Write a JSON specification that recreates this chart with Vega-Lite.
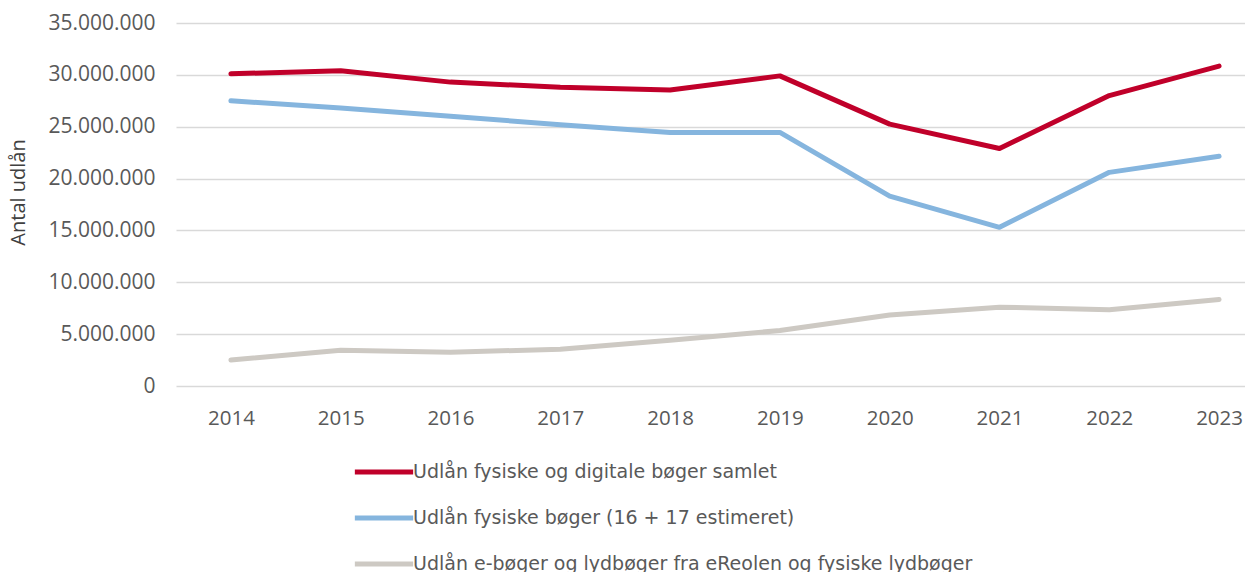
{
  "$schema": "https://vega.github.io/schema/vega-lite/v6.json",
  "width": 1069,
  "height": 363,
  "autosize": {"type": "none"},
  "padding": {"left": 176, "top": 23, "right": 0, "bottom": 186},
  "background": "white",
  "config": {
    "locale": {"number": {"decimal": ",", "thousands": ".", "grouping": [3], "currency": ["", " kr."]}},
    "view": {"stroke": null},
    "font": "Open Sans"
  },
  "data": {
    "values": [
      {"year": 2014, "series": "Udlån fysiske og digitale bøger samlet", "value": 30100000},
      {"year": 2015, "series": "Udlån fysiske og digitale bøger samlet", "value": 30400000},
      {"year": 2016, "series": "Udlån fysiske og digitale bøger samlet", "value": 29300000},
      {"year": 2017, "series": "Udlån fysiske og digitale bøger samlet", "value": 28800000},
      {"year": 2018, "series": "Udlån fysiske og digitale bøger samlet", "value": 28550000},
      {"year": 2019, "series": "Udlån fysiske og digitale bøger samlet", "value": 29900000},
      {"year": 2020, "series": "Udlån fysiske og digitale bøger samlet", "value": 25250000},
      {"year": 2021, "series": "Udlån fysiske og digitale bøger samlet", "value": 22900000},
      {"year": 2022, "series": "Udlån fysiske og digitale bøger samlet", "value": 28000000},
      {"year": 2023, "series": "Udlån fysiske og digitale bøger samlet", "value": 30850000},
      {"year": 2014, "series": "Udlån fysiske bøger (16 + 17 estimeret)", "value": 27500000},
      {"year": 2015, "series": "Udlån fysiske bøger (16 + 17 estimeret)", "value": 26800000},
      {"year": 2016, "series": "Udlån fysiske bøger (16 + 17 estimeret)", "value": 26000000},
      {"year": 2017, "series": "Udlån fysiske bøger (16 + 17 estimeret)", "value": 25200000},
      {"year": 2018, "series": "Udlån fysiske bøger (16 + 17 estimeret)", "value": 24450000},
      {"year": 2019, "series": "Udlån fysiske bøger (16 + 17 estimeret)", "value": 24450000},
      {"year": 2020, "series": "Udlån fysiske bøger (16 + 17 estimeret)", "value": 18300000},
      {"year": 2021, "series": "Udlån fysiske bøger (16 + 17 estimeret)", "value": 15300000},
      {"year": 2022, "series": "Udlån fysiske bøger (16 + 17 estimeret)", "value": 20600000},
      {"year": 2023, "series": "Udlån fysiske bøger (16 + 17 estimeret)", "value": 22150000},
      {"year": 2014, "series": "Udlån e-bøger og lydbøger fra eReolen og fysiske lydbøger", "value": 2500000},
      {"year": 2015, "series": "Udlån e-bøger og lydbøger fra eReolen og fysiske lydbøger", "value": 3450000},
      {"year": 2016, "series": "Udlån e-bøger og lydbøger fra eReolen og fysiske lydbøger", "value": 3250000},
      {"year": 2017, "series": "Udlån e-bøger og lydbøger fra eReolen og fysiske lydbøger", "value": 3550000},
      {"year": 2018, "series": "Udlån e-bøger og lydbøger fra eReolen og fysiske lydbøger", "value": 4400000},
      {"year": 2019, "series": "Udlån e-bøger og lydbøger fra eReolen og fysiske lydbøger", "value": 5350000},
      {"year": 2020, "series": "Udlån e-bøger og lydbøger fra eReolen og fysiske lydbøger", "value": 6850000},
      {"year": 2021, "series": "Udlån e-bøger og lydbøger fra eReolen og fysiske lydbøger", "value": 7600000},
      {"year": 2022, "series": "Udlån e-bøger og lydbøger fra eReolen og fysiske lydbøger", "value": 7350000},
      {"year": 2023, "series": "Udlån e-bøger og lydbøger fra eReolen og fysiske lydbøger", "value": 8350000}
    ]
  },
  "mark": {"type": "line", "strokeWidth": 5, "strokeCap": "round", "strokeJoin": "round"},
  "encoding": {
    "x": {
      "field": "year",
      "type": "quantitative",
      "scale": {"domain": [2013.5, 2023.236], "nice": false, "zero": false},
      "axis": {
        "title": null,
        "values": [2014, 2015, 2016, 2017, 2018, 2019, 2020, 2021, 2022, 2023],
        "format": "d",
        "grid": false,
        "domain": false,
        "ticks": false,
        "labelFontSize": 20.5,
        "labelColor": "#595959",
        "labelPadding": 22,
        "labelFlush": false
      }
    },
    "y": {
      "field": "value",
      "type": "quantitative",
      "scale": {"domain": [0, 35000000], "nice": false},
      "axis": {
        "title": "Antal udlån",
        "titleFontSize": 20,
        "titleFontWeight": "normal",
        "titleColor": "#404040",
        "titleX": -148,
        "titleY": 169,
        "values": [0, 5000000, 10000000, 15000000, 20000000, 25000000, 30000000, 35000000],
        "format": ",d",
        "grid": true,
        "gridColor": "#D9D9D9",
        "gridWidth": 1.5,
        "domain": false,
        "ticks": false,
        "labelFontSize": 21,
        "labelColor": "#595959",
        "labelPadding": 21
      }
    },
    "color": {
      "field": "series",
      "type": "nominal",
      "scale": {
        "domain": [
          "Udlån fysiske og digitale bøger samlet",
          "Udlån fysiske bøger (16 + 17 estimeret)",
          "Udlån e-bøger og lydbøger fra eReolen og fysiske lydbøger"
        ],
        "range": ["#C0002A", "#85B5DE", "#CDC9C3"]
      },
      "legend": {
        "title": null,
        "orient": "none",
        "legendX": 176,
        "legendY": 417,
        "direction": "vertical",
        "symbolType": "stroke",
        "symbolSize": 3400,
        "symbolStrokeWidth": 5,
        "symbolStrokeColor": {"expr": "scale('color', datum.value)"},
        "labelFont": "DejaVu Sans",
        "labelFontSize": 19,
        "labelColor": "#595959",
        "labelOffset": -3,
        "rowPadding": 4,
        "labelLimit": 900
      }
    }
  }
}
